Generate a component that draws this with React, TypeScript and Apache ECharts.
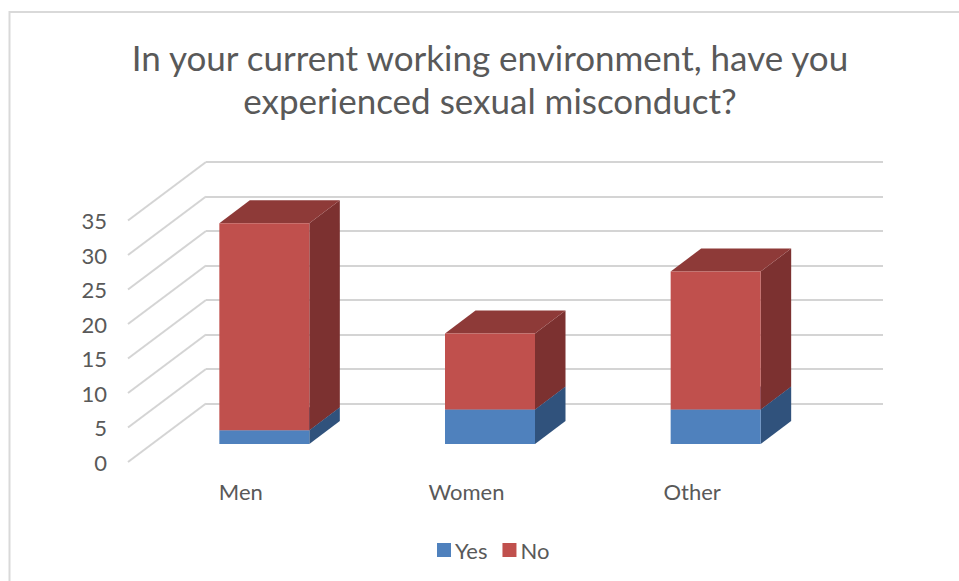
import React, { useEffect, useRef } from "react";
import * as echarts from "echarts";

const titleLines = ["In your current working environment, have you", "experienced sexual misconduct?"];
const categories = ["Men", "Women", "Other"];
const yesValues = [2, 5, 5];
const noValues = [30, 11, 20];
const tickValues = [0, 5, 10, 15, 20, 25, 30, 35];

const FONT = "Lato";
const FRONT = { left: 128, top: 220.5, width: 677, height: 241.5 };
const DEPTH_DX = 78;
const DEPTH_DY = -58.5;
const BAR_DX = 23.5;
const BAR_DY = -18;
const BAR_W = 90;
const BAR_DEPTH_X = 30.5;
const BAR_DEPTH_Y = -23;

function box(api: any, front: string, side: string, top: string) {
  const a = api.coord([api.value(0), api.value(1)]);
  const b = api.coord([api.value(0), api.value(2)]);
  const x0 = a[0] + BAR_DX - BAR_W / 2;
  const x1 = x0 + BAR_W;
  const y0 = a[1] + BAR_DY;
  const y1 = b[1] + BAR_DY;
  const poly = (pts: number[][], fill: string) => ({ type: "polygon", shape: { points: pts }, style: { fill } });
  return {
    type: "group",
    children: [
      poly([[x1, y0], [x1 + BAR_DEPTH_X, y0 + BAR_DEPTH_Y], [x1 + BAR_DEPTH_X, y1 + BAR_DEPTH_Y], [x1, y1]], side),
      poly([[x0, y1], [x1, y1], [x1 + BAR_DEPTH_X, y1 + BAR_DEPTH_Y], [x0 + BAR_DEPTH_X, y1 + BAR_DEPTH_Y]], top),
      poly([[x0, y0], [x1, y0], [x1, y1], [x0, y1]], front),
    ],
  };
}

export default function App() {
  const ref = useRef<HTMLDivElement>(null);
  useEffect(() => {
    const chart = echarts.init(ref.current!, undefined, { renderer: "svg" });
    const yesData = categories.map((_, i) => [i, 0, yesValues[i]]);
    const noData = categories.map((_, i) => [i, yesValues[i], yesValues[i] + noValues[i]]);
    chart.setOption({
      animation: false,
      backgroundColor: "#ffffff",
      textStyle: { fontFamily: FONT },
      title: {
        text: titleLines.join("\n"),
        left: 485,
        top: 30,
        textAlign: "center",
        textStyle: { fontFamily: FONT, fontSize: 35, fontWeight: "normal", color: "#595959", lineHeight: 43 },
      },
      legend: {
        data: ["Yes", "No"],
        left: 432,
        top: 534,
        itemWidth: 14,
        itemHeight: 14,
        itemGap: 15,
        icon: "rect",
        textStyle: { fontFamily: FONT, fontSize: 22, color: "#595959", padding: [0, 0, 0, -1] },
      },
      graphic: [
        {
          type: "polyline",
          silent: true,
          z: -10,
          shape: { points: [[9.5, 581], [9.5, 12], [959, 12]] },
          style: { fill: "none", stroke: "#d9d9d9", lineWidth: 2 },
        },
      ],
      grid: [
        { ...FRONT },
        { left: FRONT.left + DEPTH_DX, top: FRONT.top + DEPTH_DY, width: FRONT.width, height: FRONT.height },
      ],
      xAxis: [
        {
          type: "category",
          gridIndex: 0,
          data: categories,
          axisLine: { show: false },
          axisTick: { show: false },
          axisLabel: { margin: 18, fontFamily: FONT, fontSize: 22, color: "#595959" },
        },
        {
          type: "category",
          gridIndex: 1,
          data: categories,
          axisLine: { show: false },
          axisTick: { show: false },
          axisLabel: { show: false },
        },
      ],
      yAxis: [
        {
          type: "value",
          gridIndex: 0,
          min: 0,
          max: 35,
          interval: 5,
          axisLine: { show: false },
          axisTick: { show: false },
          splitLine: { show: false },
          axisLabel: { margin: 21, fontFamily: FONT, fontSize: 22, color: "#595959" },
        },
        {
          type: "value",
          gridIndex: 1,
          min: 0,
          max: 35,
          interval: 5,
          axisLine: { show: false },
          axisTick: { show: false },
          axisLabel: { show: false },
          splitLine: { show: true, lineStyle: { color: "#d4d4d4", width: 2 } },
        },
      ],
      series: [
        {
          type: "custom",
          name: "walls",
          xAxisIndex: 0,
          yAxisIndex: 0,
          silent: true,
          z: 1,
          data: tickValues.map((v) => [v]),
          encode: { y: 0 },
          renderItem: (params: any, api: any) => {
            const p = api.coord([0, api.value(0)]);
            const x = params.coordSys.x;
            return {
              type: "line",
              shape: { x1: x, y1: p[1], x2: x + DEPTH_DX, y2: p[1] + DEPTH_DY },
              style: { stroke: "#d4d4d4", lineWidth: 2 },
            };
          },
        },
        {
          type: "custom",
          name: "Yes",
          xAxisIndex: 0,
          yAxisIndex: 0,
          z: 3,
          itemStyle: { color: "#4f81bd" },
          data: yesData,
          encode: { x: 0, y: [1, 2] },
          renderItem: (_: any, api: any) => box(api, "#4f81bd", "#30527c", "#3a6496"),
        },
        {
          type: "custom",
          name: "No",
          xAxisIndex: 0,
          yAxisIndex: 0,
          z: 4,
          itemStyle: { color: "#c0504d" },
          data: noData,
          encode: { x: 0, y: [1, 2] },
          renderItem: (_: any, api: any) => box(api, "#c0504d", "#7c3130", "#8e3a38"),
        },
      ],
    });
    return () => chart.dispose();
  }, []);
  return <div ref={ref} style={{ position: "absolute", left: 0, top: 0, width: 959, height: 581 }} />;
}
